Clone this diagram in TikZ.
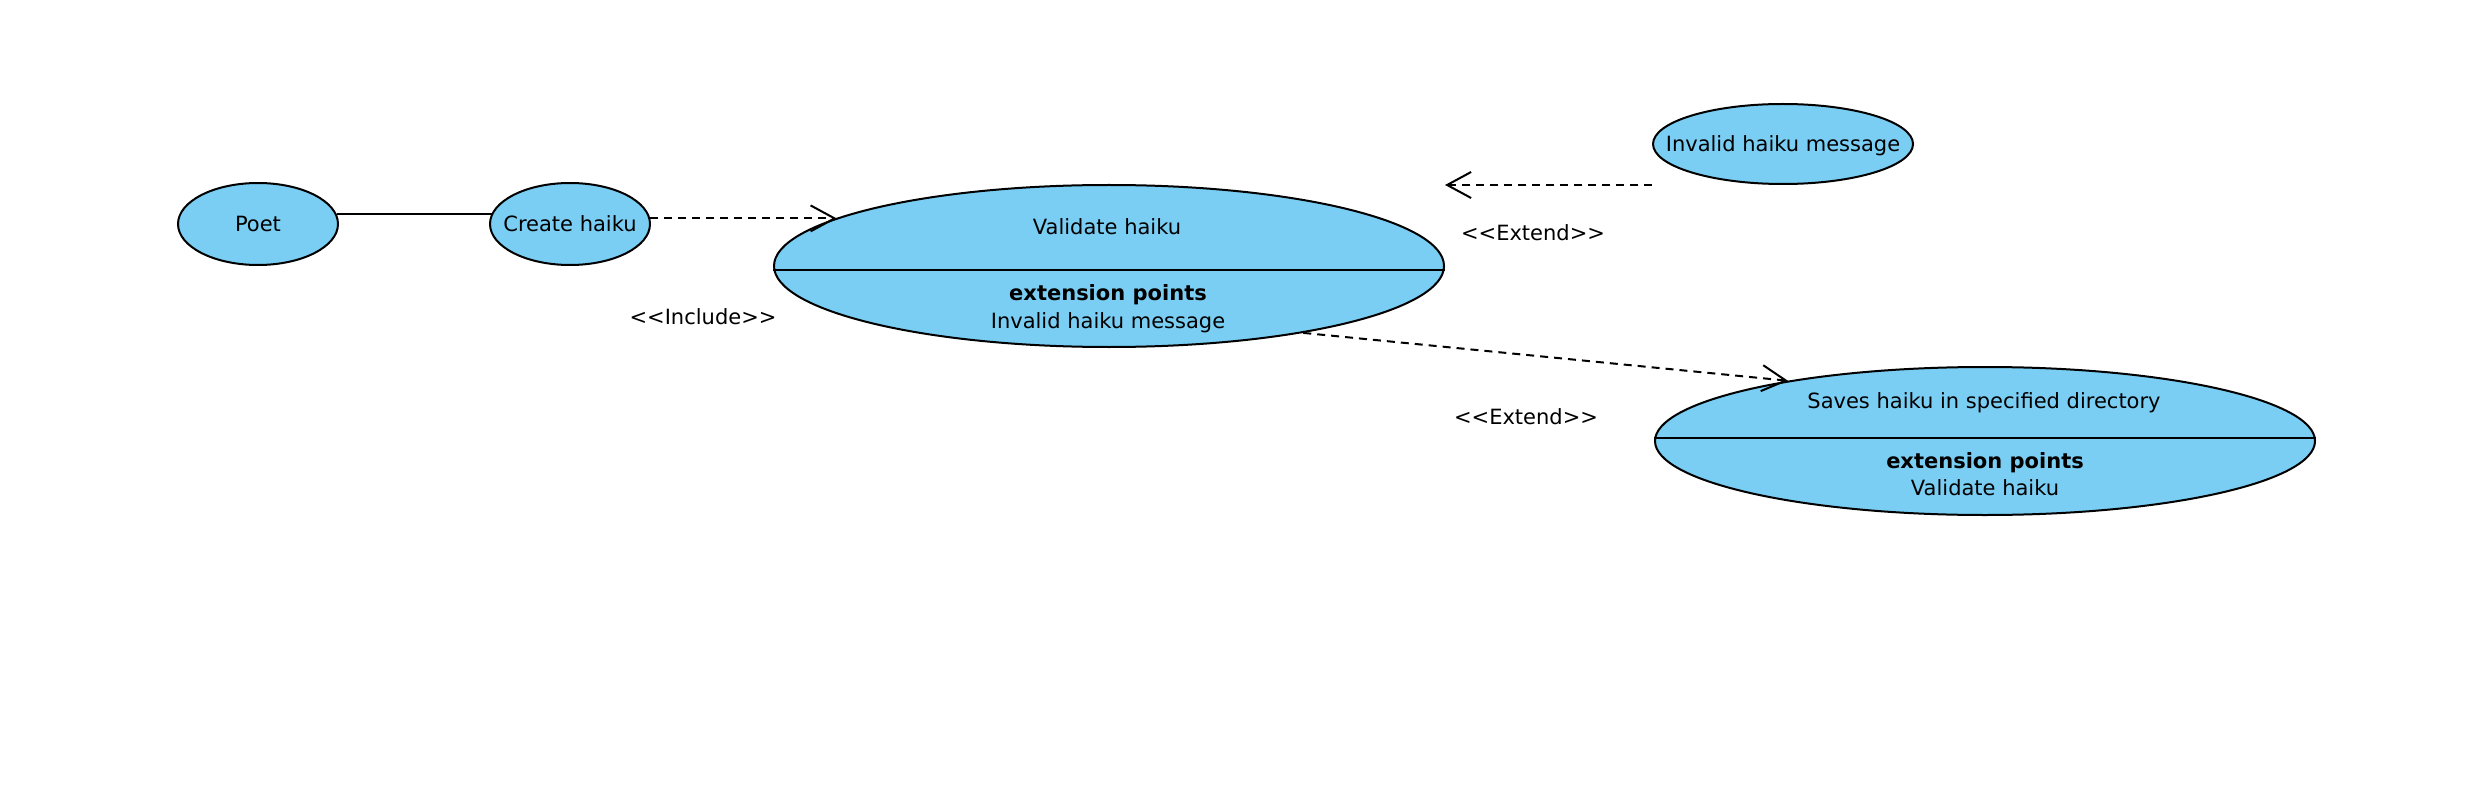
\documentclass[tikz,border=0pt]{standalone}
\usepackage{fontspec}
\setmainfont{DejaVu Sans}
\usetikzlibrary{shapes.geometric,arrows.meta}
\definecolor{ucfill}{RGB}{122,206,244}
\begin{document}
\begin{tikzpicture}[x=1pt,y=-1pt,
  every node/.style={font=\fontsize{21}{25}\selectfont},
  uc/.style={ellipse,draw=black,line width=2pt,fill=ucfill,inner sep=0pt},
  lbl/.style={inner sep=0pt,text height=15pt,text depth=0pt},
  txt/.style={inner sep=0pt,anchor=base},
  boldtxt/.style={inner sep=0pt,anchor=base,font=\fontsize{21}{25}\selectfont\bfseries},
  dep/.style={draw=black,line width=2pt,dash pattern=on 8pt off 6pt,
    -{Straight Barb[length=24pt,width=26pt,line width=2pt]}},
  assoc/.style={draw=black,line width=2pt}]
\useasboundingbox (0,0) rectangle (2472,786);

% use cases
\node[uc,minimum width=160pt,minimum height=82pt] (poet) at (258,224) {};
\node[lbl] (poett) at (poet.center) {Poet};
\node[uc,minimum width=160pt,minimum height=82pt] (create) at (570,224) {};
\node[lbl] (createt) at (create.center) {Create haiku};
\node[uc,minimum width=670pt,minimum height=162pt] (validate) at (1109,266) {};
\node[uc,minimum width=260pt,minimum height=80pt] (inv) at (1783,144) {};
\node[lbl] (invt) at (inv.center) {Invalid haiku message};
\node[uc,minimum width=660pt,minimum height=148pt] (saves) at (1985,441) {};

% dividers
\draw[assoc] ([yshift=-4pt]validate.west) -- ([yshift=-4pt]validate.east);
\draw[assoc] ([yshift=3pt]saves.west) -- ([yshift=3pt]saves.east);

% compartment texts
\node[txt] (v1) at (1107,235) {Validate haiku};
\node[boldtxt] (v2) at (1108,300) {extension points};
\node[txt] (v3) at (1108,328) {Invalid haiku message};
\node[txt] (s1) at (1984,408) {Saves haiku in specified directory};
\node[boldtxt] (s2) at (1985,468) {extension points};
\node[txt] (s3) at (1985,495) {Validate haiku};

% connectors
\draw[assoc] (poet.7.5) -- (poet.7.5 -| create.172.5);
\draw[dep] (create.4.5) -- (create.4.5 -| validate.170);
\coordinate (invsw) at (inv.west |- inv.south);
\coordinate (valne) at (validate.east |- validate.north);
\draw[dep] (invsw) -- (invsw -| valne);
\draw[dep] (validate.-19.2) -- (saves.163);

% labels
\node[lbl] (inc) at (703,317) {<\kern0pt<Include>\kern0pt>};
\node[lbl] (ext1) at (1533,233) {<\kern0pt<Extend>\kern0pt>};
\node[lbl] (ext2) at (1526,417) {<\kern0pt<Extend>\kern0pt>};
\end{tikzpicture}
\end{document}
